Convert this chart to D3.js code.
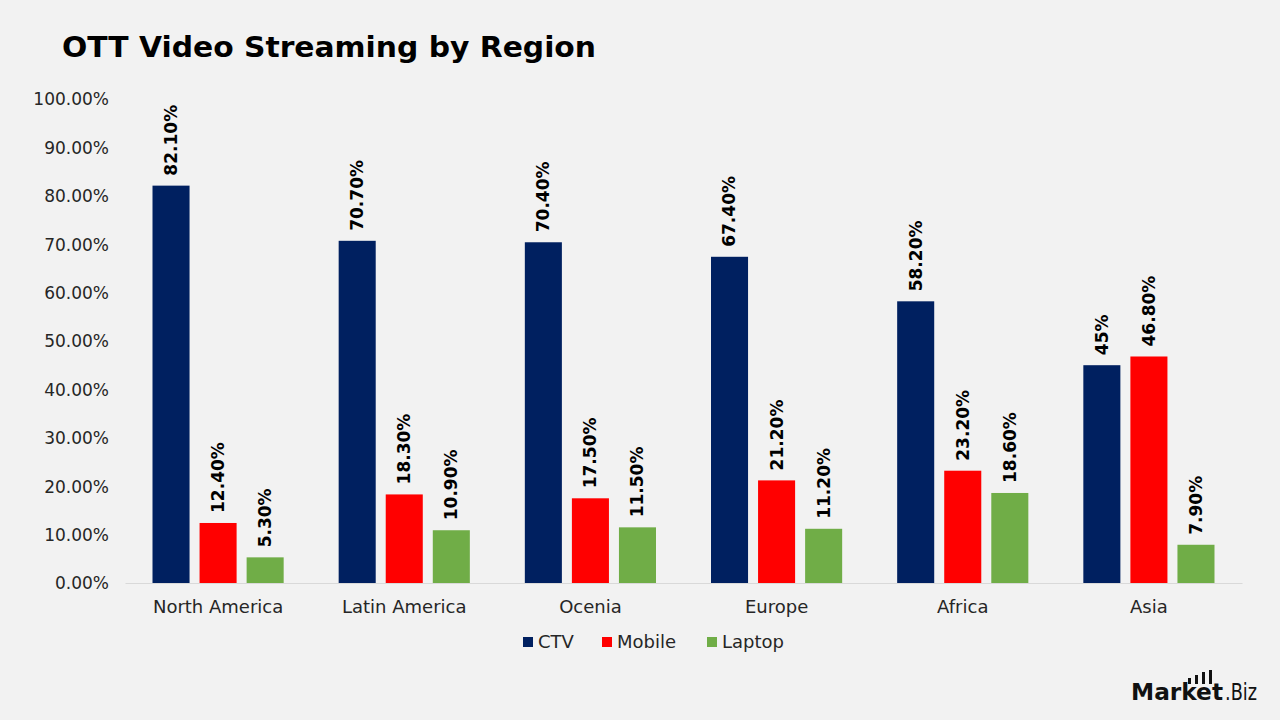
<!DOCTYPE html>
<html><head><meta charset="utf-8">
<script src="https://cdn.jsdelivr.net/npm/d3@7"></script>
<style>
html,body{margin:0;padding:0;background:#F2F2F2;}
svg{display:block;font-family:"DejaVu Sans",sans-serif;}
</style></head>
<body><svg id="c" width="1280" height="720"></svg>
<script>
const categories = ["North America","Latin America","Ocenia","Europe","Africa","Asia"];
const seriesNames = ["CTV","Mobile","Laptop"];
const ctv = [82.1,70.7,70.4,67.4,58.2,45];
const mobile = [12.4,18.3,17.5,21.2,23.2,46.8];
const laptop = [5.3,10.9,11.5,11.2,18.6,7.9];
const yTicks = [0,10,20,30,40,50,60,70,80,90,100];
const colors = ["#002060","#FF0000","#70AD47"];

const values = [ctv, mobile, laptop];
const svg = d3.select("#c");
svg.append("rect").attr("width",1280).attr("height",720).attr("fill","#F2F2F2");

const x0 = d3.scaleBand().domain(categories).range([125,1242]).paddingInner(0).paddingOuter(0);
const x1 = d3.scaleBand().domain(seriesNames).range([27.5, x0.bandwidth()-27.5]).paddingInner(10/47).paddingOuter(0);
const y = d3.scaleLinear().domain([0,100]).range([583,99]);

const title = svg.append("text").attr("x",62).attr("y",57).attr("font-size",28).attr("font-weight",700)
  .attr("fill","#000").text("OTT Video Streaming by Region");
const tw = title.node().getComputedTextLength();
if (Math.abs(tw-534) > 8) title.attr("textLength",534).attr("lengthAdjust","spacingAndGlyphs");

// y axis
const yAxis = svg.append("g").attr("transform","translate(109,0)")
  .call(d3.axisLeft(y).tickValues(yTicks).tickSize(0).tickPadding(0).tickFormat(d=>d.toFixed(2)+"%"));
yAxis.select(".domain").remove();
yAxis.selectAll("text").attr("font-size",17).attr("fill","#262626").attr("font-family","'DejaVu Sans',sans-serif").attr("dy","0.35em");

// x axis
const xAxis = svg.append("g").attr("transform","translate(0,583)")
  .call(d3.axisBottom(x0).tickSize(0).tickPadding(17));
xAxis.select(".domain").attr("stroke","#D9D9D9").attr("stroke-width",1);
xAxis.selectAll("text").attr("font-size",18).attr("fill","#262626").attr("font-family","'DejaVu Sans',sans-serif");

const fmt = v => Number.isInteger(v) ? v+"%" : v.toFixed(2)+"%";

const groups = svg.append("g").selectAll("g").data(categories).join("g")
  .attr("transform",d=>`translate(${x0(d)},0)`);

seriesNames.forEach((s,si)=>{
  groups.append("rect")
    .attr("x",x1(s)).attr("width",x1.bandwidth())
    .attr("y",(d,i)=>y(values[si][i])).attr("height",(d,i)=>y(0)-y(values[si][i]))
    .attr("fill",colors[si]);
  groups.append("text")
    .attr("transform",(d,i)=>`translate(${x1(s)+x1.bandwidth()/2},${y(values[si][i])-10}) rotate(-90)`)
    .attr("dy","0.35em").attr("text-anchor","start")
    .attr("font-size",17).attr("font-weight",700).attr("fill","#000")
    .text((d,i)=>fmt(values[si][i]));
});

// legend
const legend = svg.append("g").attr("transform","translate(0,642)");
const legX = [523,602,707];
seriesNames.forEach((s,i)=>{
  legend.append("rect").attr("x",legX[i]).attr("y",-5).attr("width",10).attr("height",10).attr("fill",colors[i]);
  legend.append("text").attr("x",legX[i]+15).attr("y",0).attr("dy","0.35em")
    .attr("font-size",18).attr("fill","#262626").text(s);
});

// logo
const logo = svg.append("g").attr("transform","translate(1131,700)");
logo.append("text").attr("x",0).attr("y",0).attr("font-size",23).attr("font-weight",700).attr("fill","#111")
  .attr("textLength",92).attr("lengthAdjust","spacingAndGlyphs").text("Market");
logo.append("text").attr("x",94).attr("y",0).attr("font-size",23).attr("font-weight",400).attr("fill","#111")
  .attr("textLength",32).attr("lengthAdjust","spacingAndGlyphs").text(".Biz");
[[57,-22,3,6],[64,-25,3,9],[71,-28,3,12],[78,-30,3,14]].forEach(b=>{
  logo.append("rect").attr("x",b[0]).attr("y",b[1]).attr("width",b[2]).attr("height",b[3]).attr("fill","#111");
});
</script></body></html>
